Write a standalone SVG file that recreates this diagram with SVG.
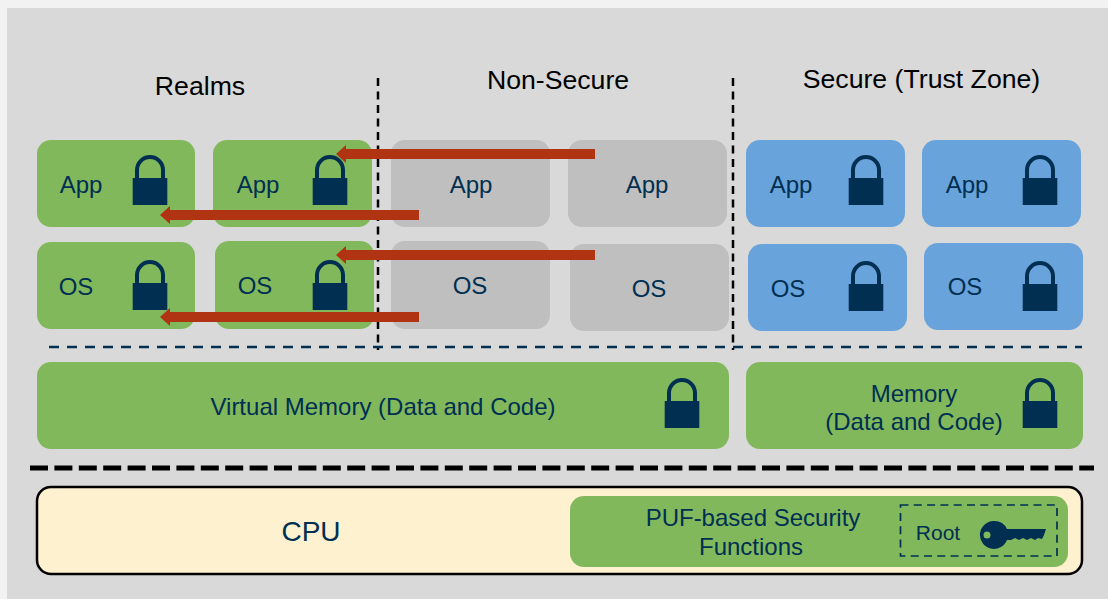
<svg xmlns="http://www.w3.org/2000/svg" width="1108" height="599" viewBox="0 0 1108 599">
<style>
text{font-family:"Liberation Sans",Arial,sans-serif;text-anchor:middle;fill:#002f52}
.h{font-size:26.67px;fill:#000}
.l{font-size:24px}
.g{fill:#82b85c}
.n{fill:#bfbfbf}
.b{fill:#69a3db}
.arr{stroke:#b03412;stroke-width:10;fill:none;marker-end:url(#ah)}
.v{stroke:#000;stroke-width:2.5;stroke-dasharray:8 5.5;fill:none}
</style>
<defs>
<marker id="ah" markerUnits="userSpaceOnUse" markerWidth="10" markerHeight="18" refX="0" refY="9" orient="auto"><path d="M0 0L10 9L0 18Z" fill="#b03412"/></marker>
<g id="lock"><path d="M-13 24V15A13 13 0 0 1 13 15V24" fill="none" stroke="#002f52" stroke-width="4"/><rect x="-17.300" y="23" width="34.600" height="27" fill="#002f52"/></g>
</defs>
<rect width="1108" height="599" fill="#f2f2f2"/>
<rect x="7" y="8" width="1101" height="591" fill="#d9d9d9"/>
<g id="headings">
<text class="h" x="200" y="95">Realms</text>
<text class="h" x="558" y="89">Non-Secure</text>
<text class="h" x="921.500" y="88">Secure (Trust Zone)</text>
</g>
<g id="realm-app-1"><rect class="g" x="37" y="140" width="158" height="87" rx="14"/><text class="l" x="81" y="193">App</text><use href="#lock" x="150" y="155"/></g>
<g id="realm-app-2"><rect class="g" x="213" y="140" width="159" height="87" rx="14"/><text class="l" x="258" y="193">App</text><use href="#lock" x="330" y="155"/></g>
<g id="realm-os-1"><rect class="g" x="37" y="242" width="158" height="87" rx="14"/><text class="l" x="76" y="295">OS</text><use href="#lock" x="150" y="260"/></g>
<g id="realm-os-2"><rect class="g" x="215" y="241" width="159" height="88" rx="14"/><text class="l" x="255" y="294">OS</text><use href="#lock" x="330" y="260"/></g>
<g id="ns-app-1"><rect class="n" x="391" y="140" width="159" height="87" rx="14"/><text class="l" x="471" y="193">App</text></g>
<g id="ns-app-2"><rect class="n" x="568" y="140" width="159" height="87" rx="14"/><text class="l" x="647" y="193">App</text></g>
<g id="ns-os-1"><rect class="n" x="391" y="241" width="159" height="88" rx="14"/><text class="l" x="470" y="294">OS</text></g>
<g id="ns-os-2"><rect class="n" x="570" y="244" width="159" height="87" rx="14"/><text class="l" x="649" y="297">OS</text></g>
<g id="sec-app-1"><rect class="b" x="746" y="140" width="159" height="87" rx="14"/><text class="l" x="791" y="193">App</text><use href="#lock" x="866" y="155"/></g>
<g id="sec-app-2"><rect class="b" x="922" y="140" width="159" height="87" rx="14"/><text class="l" x="967" y="193">App</text><use href="#lock" x="1040" y="155"/></g>
<g id="sec-os-1"><rect class="b" x="748" y="244" width="159" height="87" rx="14"/><text class="l" x="788" y="297">OS</text><use href="#lock" x="866" y="261"/></g>
<g id="sec-os-2"><rect class="b" x="924" y="243" width="159" height="87" rx="14"/><text class="l" x="965" y="295">OS</text><use href="#lock" x="1040" y="261"/></g>
<g id="virtual-memory"><rect class="g" x="37" y="362" width="692" height="87" rx="14"/><text class="l" x="383" y="415">Virtual Memory (Data and Code)</text><use href="#lock" x="682" y="378"/></g>
<g id="memory"><rect class="g" x="746" y="362" width="337" height="87" rx="14"/><text class="l" x="914" y="402">Memory</text><text class="l" x="914" y="430">(Data and Code)</text><use href="#lock" x="1040" y="378"/></g>
<g id="cpu"><rect x="37" y="487" width="1045" height="87" rx="14" fill="#fdf1cf" stroke="#000" stroke-width="2.500"/><text x="311" y="541" style="font-size:28px">CPU</text></g>
<g id="puf"><rect class="g" x="570" y="496" width="498" height="71" rx="14"/><text class="l" x="753" y="526">PUF-based Security</text><text class="l" x="751" y="555">Functions</text></g>
<g id="root"><rect x="900.500" y="505" width="156.500" height="51" fill="none" stroke="#002f52" stroke-width="1.700" stroke-dasharray="8 5.300"/><text x="938" y="540" style="font-size:21px">Root</text>
<path fill-rule="evenodd" fill="#002f52" d="M993.500 521A14 14 0 0 1 1007 529H1046L1044 535L1042 539L1038 538L1035 540L1031 538L1027 540L1023 538L1019 540L1015 538L1011 540H1007A14 14 0 1 1 993.500 521ZM987 531.500A3.500 3.500 0 1 0 987 538.500A3.500 3.500 0 1 0 987 531.500Z"/></g>
<g id="connectors">
<path class="v" d="M378 78V350"/>
<path class="v" d="M733 78V350"/>
<path d="M49 347H1082" fill="none" stroke="#002f52" stroke-width="2.500" stroke-dasharray="10 8"/>
<path d="M30 468H1094" fill="none" stroke="#000" stroke-width="5" stroke-dasharray="18 6.400"/>
<path class="arr" d="M595 154H346"/>
<path class="arr" d="M419 215H170"/>
<path class="arr" d="M595 255H346"/>
<path class="arr" d="M419 317H170"/>
</g>
</svg>
